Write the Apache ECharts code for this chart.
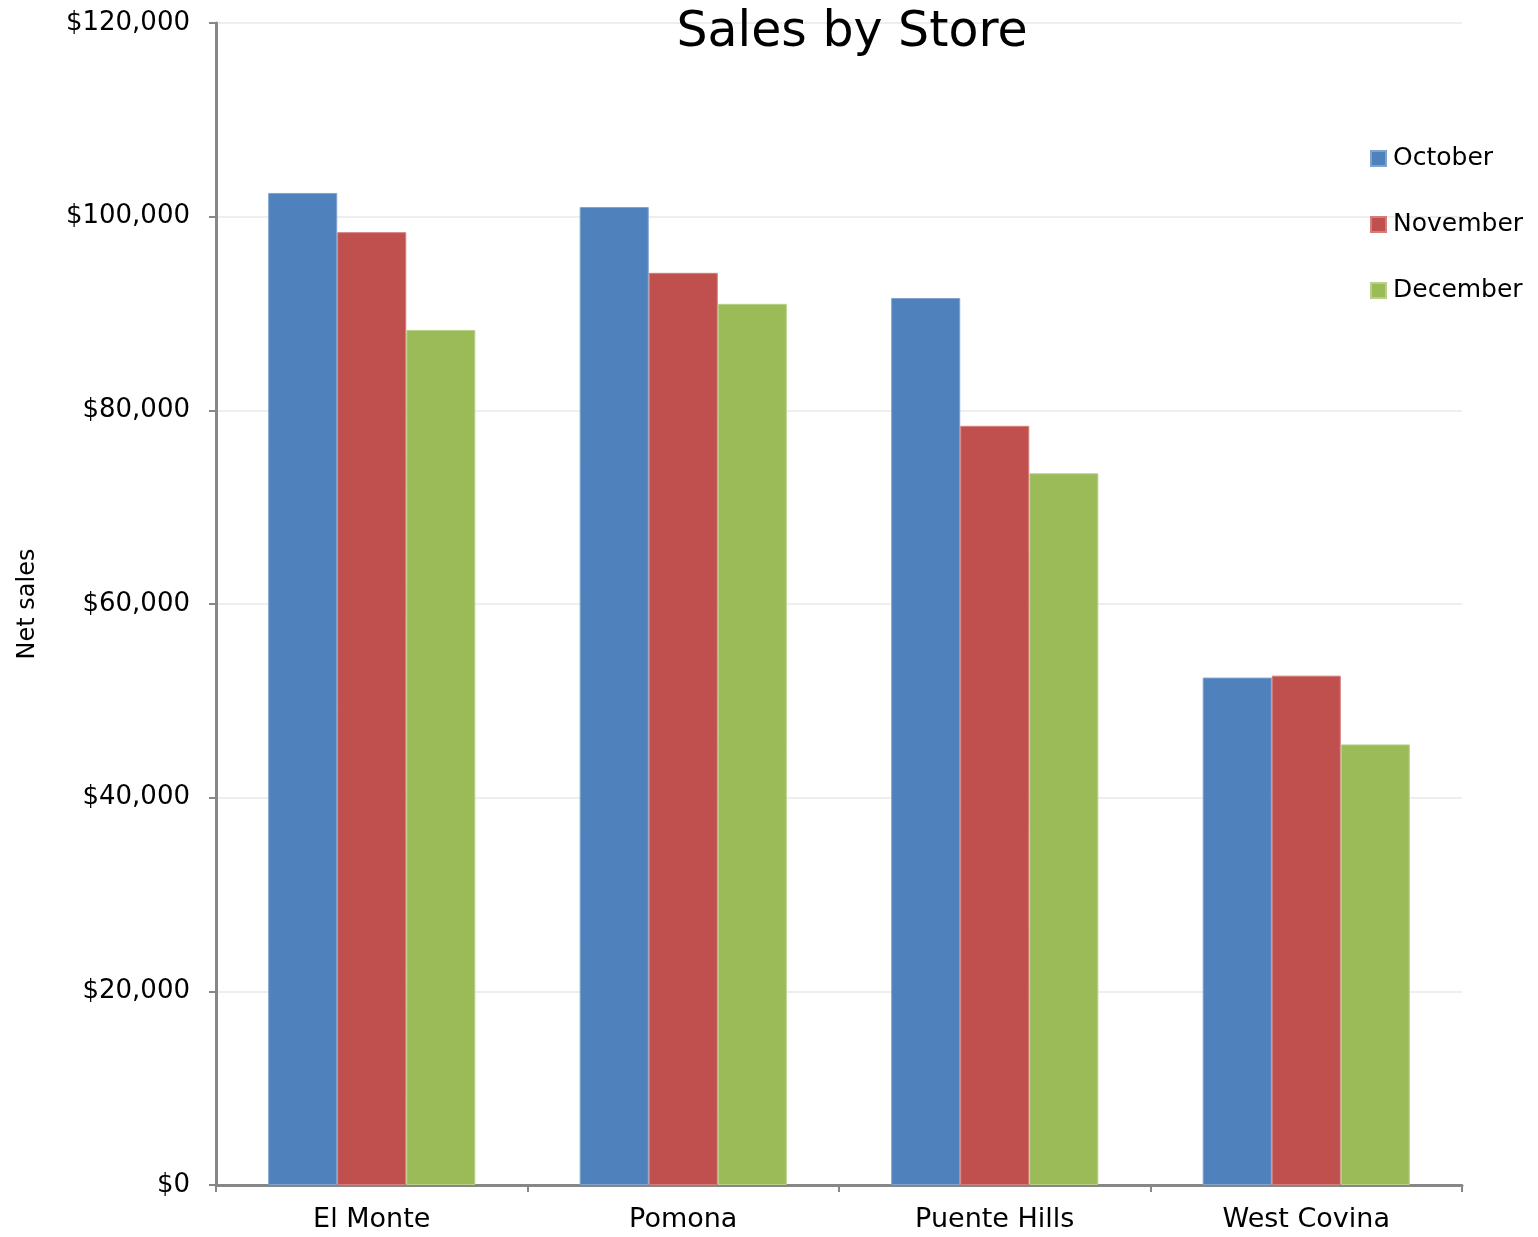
<!DOCTYPE html>
<html lang="en">
<head>
    <meta charset="UTF-8">
    <title>Sales by Store</title>
    <style>
        html, body { margin: 0; padding: 0; background: #fff; }
    </style>
</head>
<body>
    <div id="main" style="width: 1538px; height: 1237px"></div>
    <script src="https://cdn.jsdelivr.net/npm/echarts@6/dist/echarts.min.js"></script>
    <script type="text/javascript">
        var stores = ['El Monte', 'Pomona', 'Puente Hills', 'West Covina'];
        var october = [102450, 101000, 91600, 52400];
        var november = [98400, 94200, 78400, 52600];
        var december = [88300, 91000, 73500, 45500];
        var months = ['October', 'November', 'December'];
        var colors = ['#4F81BD', '#C0504D', '#9BBB59'];
        var borders = ['#7fa3d0', '#d47d7b', '#b9d08a'];

        var font = '"DejaVu Sans", sans-serif';
        var myChart = echarts.init(document.getElementById('main'));

        function money(v) {
            return '$' + v.toString().replace(/\B(?=(\d{3})+(?!\d))/g, ',');
        }

        function bar(name, data, i) {
            return {
                name: name,
                type: 'bar',
                data: data,
                barGap: 0,
                barCategoryGap: '33.5%',
                itemStyle: { color: colors[i], borderColor: borders[i], borderWidth: 1 }
            };
        }

        var option = {
            animation: false,
            color: colors,
            title: {
                text: 'Sales by Store',
                left: 847,
                textAlign: 'center',
                top: 4,
                textStyle: { fontFamily: font, fontSize: 49, fontWeight: 'normal', color: '#000' }
            },
            legend: {
                orient: 'vertical',
                left: 1370,
                top: 146,
                padding: 0,
                itemWidth: 15,
                itemHeight: 15,
                itemGap: 41,
                icon: 'rect',
                textStyle: { fontFamily: font, fontSize: 25, color: '#000', padding: [0, 0, 0, 2] },
                data: months
            },
            grid: { left: 216, right: 76, top: 23, bottom: 52, outerBoundsMode: 'none' },
            xAxis: {
                type: 'category',
                data: stores,
                axisLine: { lineStyle: { color: '#878787', width: 3 } },
                axisTick: { show: true, length: 7, lineStyle: { color: '#878787', width: 2 } },
                axisLabel: { fontFamily: font, fontSize: 27, color: '#000', margin: 21 }
            },
            yAxis: {
                type: 'value',
                min: 0,
                max: 120000,
                interval: 20000,
                name: 'Net sales',
                nameLocation: 'middle',
                nameGap: 176,
                nameTextStyle: { fontFamily: font, fontSize: 24, color: '#000' },
                axisLine: { show: true, lineStyle: { color: '#878787', width: 3 } },
                axisTick: { show: true, length: 7, lineStyle: { color: '#878787', width: 2 } },
                splitLine: { lineStyle: { color: '#eeeeee', width: 2 } },
                axisLabel: { fontFamily: font, fontSize: 26, color: '#000', margin: 26, formatter: money }
            },
            series: [
                bar(months[0], october, 0),
                bar(months[1], november, 1),
                bar(months[2], december, 2)
            ]
        };
        myChart.setOption(option);
    </script>
</body>
</html>
